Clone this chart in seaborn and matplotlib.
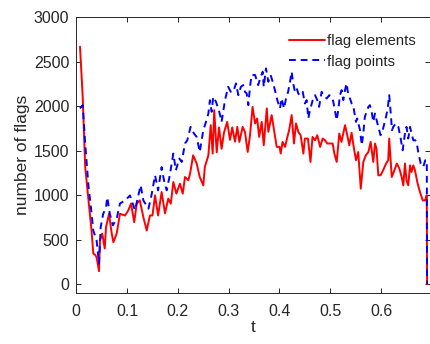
import numpy as np
import pandas as pd
import matplotlib
matplotlib.use("Agg")
import matplotlib.pyplot as plt
import seaborn as sns

t_elem = [0.0073, 0.0126, 0.0175, 0.024, 0.030, 0.0335, 0.037, 0.040, 0.0447, 0.0466,
          0.051, 0.056, 0.0585, 0.0644, 0.0697, 0.073, 0.0795, 0.086, 0.096, 0.1025,
          0.1077, 0.114, 0.119, 0.125, 0.132, 0.1386, 0.145, 0.150, 0.155, 0.161,
          0.168, 0.1746, 0.181, 0.186, 0.191, 0.197, 0.204, 0.2095, 0.214, 0.2205,
          0.224, 0.230, 0.237, 0.243, 0.250, 0.253, 0.260, 0.2646, 0.2685, 0.2715,
          0.2764, 0.281, 0.286, 0.2907, 0.297, 0.3026, 0.307, 0.3124, 0.317, 0.321,
          0.3275, 0.332, 0.3374, 0.342, 0.347, 0.352, 0.356, 0.360, 0.365, 0.369,
          0.375, 0.378, 0.3846, 0.391, 0.3945, 0.400, 0.4024, 0.406, 0.411, 0.4155,
          0.419, 0.424, 0.4285, 0.4325, 0.437, 0.4417, 0.447, 0.450, 0.456, 0.461,
          0.465, 0.470, 0.4744, 0.480, 0.485, 0.4896, 0.494, 0.4995, 0.5047, 0.508,
          0.5126, 0.5177, 0.522, 0.529, 0.532, 0.5374, 0.542, 0.545, 0.5506, 0.555,
          0.560, 0.565, 0.570, 0.575, 0.5795, 0.5846, 0.588, 0.591, 0.5945, 0.599,
          0.604, 0.6097, 0.614, 0.616, 0.621, 0.625, 0.631, 0.636, 0.6405, 0.6437,
          0.647, 0.650, 0.6535, 0.657, 0.660, 0.6634, 0.6667, 0.672, 0.6766, 0.682,
          0.6865, 0.690, 0.6905]
n_elem = [2667, 2104, 1315, 940, 600, 343, 330, 300, 145, 490,
          568, 400, 640, 790, 568, 470, 568, 790, 770, 830,
          905, 695, 905, 940, 752, 602, 771, 771, 997, 771,
          1034, 794, 960, 903, 1147, 1016, 1128, 1016, 1203, 1166,
          1241, 1447, 1354, 1203, 1109, 1315, 1447, 1785, 1466, 1954,
          1480, 1760, 1520, 1700, 1822, 1620, 1760, 1600, 1766, 1597,
          1766, 1710, 1484, 1672, 1991, 1804, 1860, 1653, 1822, 1560,
          1973, 1710, 1898, 1672, 1541, 1541, 1466, 1597, 1541, 1653,
          1729, 1898, 1579, 1804, 1710, 1672, 1466, 1635, 1635, 1372,
          1653, 1616, 1672, 1541, 1635, 1616, 1579, 1579, 1579, 1466,
          1372, 1691, 1597, 1785, 1710, 1560, 1700, 1579, 1391, 1484,
          1072, 1372, 1447, 1484, 1597, 1372, 1579, 1522, 1222, 1222,
          1278, 1354, 1391, 1635, 1203, 1259, 1354, 1297, 1203, 1109,
          1354, 1166, 1109, 1334, 1259, 1334, 1278, 1128, 1034, 940,
          940, 997, 0]

t_pts = [0.0073, 0.0126, 0.0175, 0.024, 0.030, 0.0335, 0.040, 0.0447, 0.048, 0.053,
         0.0585, 0.061, 0.066, 0.072, 0.0795, 0.086, 0.096, 0.1057, 0.1155, 0.122,
         0.1267, 0.132, 0.142, 0.148, 0.155, 0.161, 0.168, 0.1726, 0.178, 0.184,
         0.191, 0.196, 0.2028, 0.2075, 0.214, 0.2185, 0.225, 0.2317, 0.237, 0.243,
         0.250, 0.2553, 0.260, 0.263, 0.2665, 0.2696, 0.275, 0.2815, 0.286, 0.2927,
         0.299, 0.304, 0.309, 0.3144, 0.319, 0.324, 0.3287, 0.332, 0.3354, 0.3386,
         0.342, 0.345, 0.352, 0.358, 0.363, 0.367, 0.369, 0.3734, 0.378, 0.3826,
         0.3866, 0.391, 0.3957, 0.401, 0.404, 0.409, 0.4128, 0.417, 0.4207, 0.424,
         0.427, 0.4305, 0.434, 0.437, 0.440, 0.4457, 0.450, 0.4535, 0.4567, 0.460,
         0.4654, 0.470, 0.4744, 0.478, 0.483, 0.4865, 0.493, 0.498, 0.5028, 0.506,
         0.509, 0.5126, 0.5157, 0.519, 0.5224, 0.5256, 0.529, 0.532, 0.535, 0.539,
         0.542, 0.545, 0.5506, 0.553, 0.5585, 0.562, 0.565, 0.568, 0.575, 0.578,
         0.5815, 0.5846, 0.588, 0.5945, 0.599, 0.604, 0.6097, 0.613, 0.616, 0.619,
         0.6215, 0.624, 0.629, 0.634, 0.6386, 0.6425, 0.647, 0.650, 0.6535, 0.657,
         0.660, 0.6634, 0.667, 0.670, 0.673, 0.678, 0.682, 0.684, 0.687, 0.690,
         0.6905]
n_pts = [1973, 2010, 1580, 1100, 800, 600, 490, 230, 640, 790,
         860, 975, 790, 660, 735, 905, 940, 995, 830, 995,
         1110, 940, 847, 997, 1222, 1053, 1315, 1166, 1053, 1222,
         1466, 1278, 1410, 1372, 1579, 1616, 1766, 1691, 1653, 1484,
         1729, 1822, 1916, 2066, 1935, 2104, 2047, 1935, 1822, 2066,
         2216, 2160, 2160, 2254, 2122, 2216, 2235, 2160, 2141, 2010,
         2216, 2348, 2348, 2235, 2329, 2385, 2216, 2423, 2273, 2348,
         2273, 2179, 2066, 1973, 2085, 1973, 2085, 2160, 2273, 2385,
         2254, 2160, 2198, 2141, 2122, 2160, 2029, 2066, 1860, 1954,
         2066, 2122, 2066, 1991, 2160, 2122, 2085, 2122, 2104, 2047,
         1954, 1841, 1954, 2122, 2179, 2066, 2179, 2254, 2141, 2080,
         2030, 2010, 1822, 1860, 1729, 1560, 1691, 1879, 1991, 2010,
         1935, 1822, 1916, 1766, 1672, 1748, 1879, 1973, 2122, 1916,
         1729, 1766, 1804, 1766, 1635, 1503, 1691, 1766, 1635, 1766,
         1691, 1616, 1616, 1597, 1484, 1354, 1315, 1334, 1391, 1391,
         0]

x_ticks = [0, 0.1, 0.2, 0.3, 0.4, 0.5, 0.6]
y_ticks = [0, 500, 1000, 1500, 2000, 2500, 3000]

sns.set_style("ticks")
plt.rcParams['font.family'] = ['Liberation Sans', 'DejaVu Sans']
edge = '#262626'

fig = plt.figure(figsize=(4.3, 3.44), dpi=100)
ax = fig.add_axes([76.3/430, 51/344, (430-76.3)/430, 276/344])

df_e = pd.DataFrame({"t": t_elem, "n": n_elem})
df_p = pd.DataFrame({"t": t_pts, "n": n_pts})
sns.lineplot(data=df_e, x="t", y="n", ax=ax, color="#FF0000", lw=1.4,
             estimator=None, sort=False, label="flag elements")
sns.lineplot(data=df_p, x="t", y="n", ax=ax, color="#0000FF", lw=1.4,
             estimator=None, sort=False, label="flag points", dashes=False)
ax.lines[1].set_dashes([3.5, 2.5])

ax.set_xlim(0, 0.6963)
ax.set_ylim(-100, 3000)
ax.set_xticks(x_ticks)
ax.set_xticklabels([f"{v:g}" for v in x_ticks])
ax.set_yticks(y_ticks)
ax.set_xlabel("t", fontsize=12.5, color=edge, labelpad=1)
ax.set_ylabel("number of flags", fontsize=12.5, color=edge, labelpad=3)
ax.tick_params(direction="in", length=3.5, width=0.7, colors=edge,
               labelsize=11.5, top=True, right=True)
ax.tick_params(axis="x", pad=8)
ax.tick_params(axis="y", pad=5)
for s in ax.spines.values():
    s.set_color(edge)
    s.set_linewidth(0.7)

leg = ax.legend(loc="upper right", frameon=False, fontsize=10.7,
                handlelength=2.4, handletextpad=0.15, labelspacing=0.42,
                borderaxespad=0.3, bbox_to_anchor=(0.99, 0.975))
for txt in leg.get_texts():
    txt.set_color(edge)

fig.savefig("out.png", dpi=100)
